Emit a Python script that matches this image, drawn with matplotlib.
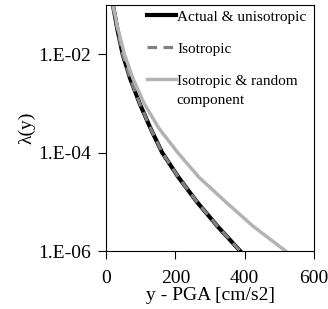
import numpy as np
import matplotlib.pyplot as plt

plt.rcParams['font.family'] = ['Liberation Serif', 'DejaVu Serif']

# annual rate of exceedance
lam = [1e-1, 3.16e-2, 1e-2, 3.16e-3, 1e-3, 3.16e-4, 1e-4, 3.16e-5, 1e-5, 3.16e-6, 1e-6]
pga_actual = [20, 33, 48, 70, 97, 128, 162, 209, 262, 322, 387]
pga_iso = [20, 33, 48, 70, 97, 128, 162, 209, 262, 322, 387]
pga_iso_rand = [20, 35, 53, 78, 110, 152, 207, 268, 345, 425, 518]

fig = plt.figure(figsize=(3.28, 3.09), dpi=100)
ax = fig.add_axes([106 / 328, 58 / 309, 208 / 328, 246 / 309])

ax.plot(pga_actual, lam, color='black', lw=3, label='Actual & unisotropic')
ax.plot(pga_iso, lam, color='#808080', lw=2.3, dashes=(3, 2), label='Isotropic')
ax.plot(pga_iso_rand, lam, color='#b3b3b3', lw=2.5, label='Isotropic & random')

ax.set_yscale('log')
ax.set_xlim(0, 600)
ax.set_ylim(1e-6, 1e-1)
ax.set_xticks([0, 200, 400, 600])
ax.set_yticks([1e-2, 1e-4, 1e-6])
ax.set_yticklabels(['1.E-02', '1.E-04', '1.E-06'])
ax.minorticks_off()
ax.tick_params(labelsize=14, length=6, width=0.8, direction='out')
ax.tick_params(axis='y', pad=5)
ax.tick_params(axis='x', pad=8)
for s in ax.spines.values():
  s.set_linewidth(0.8)

ax.set_xlabel('y - PGA [cm/s2]', fontsize=14, labelpad=0)
ax.set_ylabel('λ(y)', fontsize=14, labelpad=2)

ax.legend(loc='upper left', bbox_to_anchor=(0.195, 0.98), frameon=False,
          fontsize=11, handlelength=1.95, handletextpad=0.05,
          borderpad=0, borderaxespad=0, labelspacing=1.2)
# second line of the third legend label
ax.text(0.337, 0.612, 'component', transform=ax.transAxes, fontsize=11,
        va='center', ha='left')

plt.savefig('out.png', dpi=100)
